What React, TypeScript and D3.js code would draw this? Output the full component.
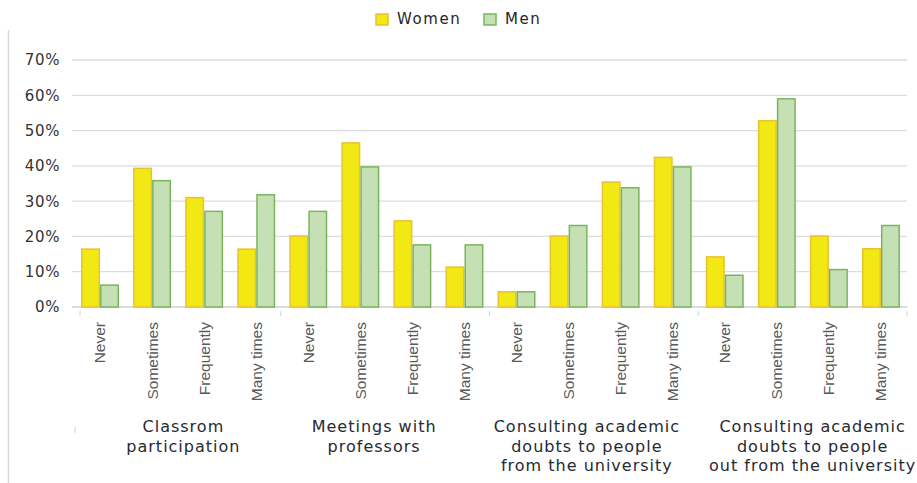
import * as d3 from "d3";

const groups = [
  ["Classrom", "participation"],
  ["Meetings with", "professors"],
  ["Consulting academic", "doubts to people", "from the university"],
  ["Consulting academic", "doubts to people", "out from the university"],
];
const answers = ["Never", "Sometimes", "Frequently", "Many times"];
const series = ["Women", "Men"];

// values per group, in answers order
const women = [
  [0.164, 0.393, 0.31, 0.164],
  [0.201, 0.465, 0.244, 0.113],
  [0.043, 0.201, 0.354, 0.424],
  [0.142, 0.528, 0.201, 0.165],
];
const men = [
  [0.062, 0.358, 0.271, 0.318],
  [0.271, 0.397, 0.176, 0.176],
  [0.043, 0.231, 0.338, 0.397],
  [0.09, 0.59, 0.106, 0.231],
];
const yTicks = [0, 0.1, 0.2, 0.3, 0.4, 0.5, 0.6, 0.7];

const fills: Record<string, string> = { Women: "#f2e814", Men: "#c5e0b4" };
const strokes: Record<string, string> = { Women: "#eac12e", Men: "#7ab55c" };

export default function App() {
  const W = 917, H = 483;
  const left = 72, right = 907, top = 60, bottom = 307;

  const cats = groups.flatMap((_, g) => answers.map((a) => `${g}|${a}`));
  const x0 = d3.scaleBand<string>().domain(cats).range([74, right]).paddingInner(0.3).paddingOuter(0.15);
  const x1 = d3.scaleBand<string>().domain(series).range([0, x0.bandwidth()]).paddingInner(0.08);
  const y = d3.scaleLinear().domain([0, 0.7]).range([bottom, top]);
  const gx = d3.scaleBand<number>().domain(d3.range(groups.length)).range([72, right]);
  // the wrapped group labels don't sit exactly centred under their groups
  const labelShift = [7, -11, -7, 10];

  const font = "'DejaVu Sans', sans-serif";
  const fmt = d3.format(".0%");

  return (
    <svg width={W} height={H} style={{ position: "absolute", left: 0, top: 0, background: "#fff" }}>
      {/* chart border */}
      <line x1={8.5} x2={8.5} y1={30} y2={H} stroke="#d9d9d9" strokeWidth={1.5} />

      {/* legend */}
      {series.map((s, i) => {
        const lx = i === 0 ? 376 : 484;
        return (
          <g key={s}>
            <rect x={lx} y={14} width={12} height={11} fill={fills[s]} stroke={strokes[s]} strokeWidth={1.5} />
            <text x={lx + 21} y={24} fontFamily={font} fontSize={15} letterSpacing={1.6} fill="#262626">{s}</text>
          </g>
        );
      })}

      {/* grid + y axis */}
      {yTicks.map((t) => (
        <g key={t}>
          <line x1={left} x2={right} y1={y(t)} y2={y(t)} stroke={t === 0 ? "#d0d0d0" : "#dcdcdc"} strokeWidth={1.3} />
          <text x={60} y={y(t)} dy="0.36em" textAnchor="end" fontFamily={font} fontSize={15} letterSpacing={0.6} fill="#333">
            {fmt(t)}
          </text>
        </g>
      ))}

      {/* bars */}
      {groups.map((_, g) =>
        answers.map((a, k) =>
          series.map((s) => {
            const v = (s === "Women" ? women : men)[g][k];
            const bx = (x0(`${g}|${a}`) ?? 0) + (x1(s) ?? 0);
            return (
              <rect
                key={`${g}-${a}-${s}`}
                x={bx}
                y={y(v)}
                width={x1.bandwidth()}
                height={bottom - y(v)}
                fill={fills[s]}
                stroke={strokes[s]}
                strokeWidth={1.5}
              />
            );
          })
        )
      )}

      {/* group separators */}
      {d3.range(groups.length + 1).map((g) => {
        const sx = g === 0 ? 80 : (gx(g) ?? right);
        return <line key={g} x1={sx} x2={sx} y1={bottom + 4} y2={bottom + 9} stroke="#d0d0d0" />;
      })}
      <line x1={75} x2={75} y1={427} y2={433} stroke="#d0d0d0" />

      {/* category labels */}
      {cats.map((c) => {
        const cx = (x0(c) ?? 0) + x0.bandwidth() / 2;
        return (
          <text
            key={c}
            transform={`translate(${cx},322) rotate(-90)`}
            textAnchor="end"
            dy="0.35em"
            fontFamily="'Liberation Sans', sans-serif"
            fontSize={15.5}
            fill="#595959"
          >
            {c.split("|")[1]}
          </text>
        );
      })}

      {/* group labels */}
      {groups.map((lines, g) => {
        const cx = (gx(g) ?? 0) + gx.bandwidth() / 2 + labelShift[g];
        return (
          <text key={g} textAnchor="middle" fontFamily={font} fontSize={16} letterSpacing={1} fill="#262a33">
            {lines.map((l, i) => (
              <tspan key={i} x={cx} y={432 + i * 19.5}>{l}</tspan>
            ))}
          </text>
        );
      })}
    </svg>
  );
}
